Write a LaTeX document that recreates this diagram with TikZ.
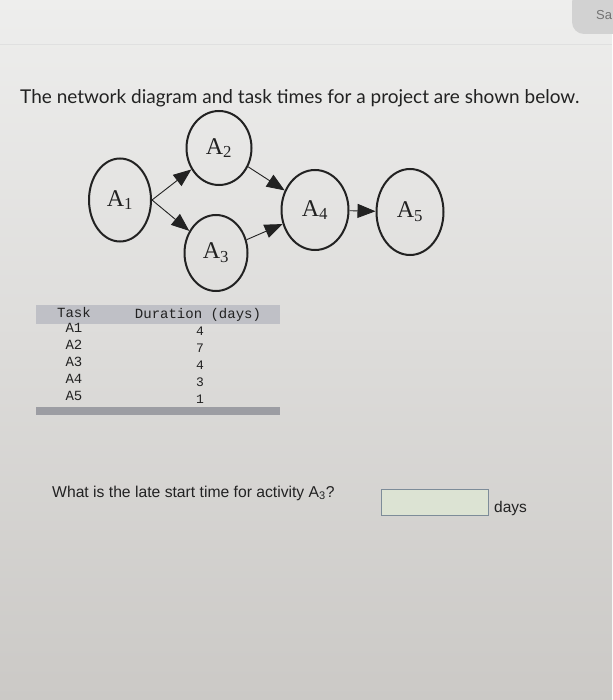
\documentclass[tikz,border=0pt]{standalone}
\usepackage{fontspec}
\usetikzlibrary{shapes.geometric,arrows.meta}
\newfontfamily\hfont{Lato}
\newfontfamily\qfont{Liberation Sans}
\newfontfamily\serA{Liberation Serif}
\newfontfamily\monof{Liberation Mono}
\definecolor{ink}{HTML}{222222}
\definecolor{bgtop}{HTML}{EEEEED}
\definecolor{bgbot}{HTML}{CBC9C6}
\definecolor{band}{HTML}{BFC0C6}
\definecolor{barc}{HTML}{9C9DA3}
\definecolor{boxfill}{HTML}{DCE3D3}
\definecolor{boxline}{HTML}{7D8C99}
\definecolor{btn}{HTML}{D2D2D2}
\tikzset{
  ev/.style={draw=ink, line width=2pt, ellipse, inner sep=0pt, minimum width=64pt, minimum height=80pt,
    font=\serA\fontsize{24}{26}\selectfont, text=ink},
  arr/.style={draw=ink, line width=0.9pt, -{Triangle[length=18pt,width=14pt]}},
  mono/.style={font=\monof\fontsize{14}{16}\selectfont, text=ink, inner sep=0pt},
  monov/.style={font=\monof\fontsize{13}{15}\selectfont, text=ink, inner sep=0pt},
}
\begin{document}
\begin{tikzpicture}[x=1pt,y=-1pt]
\useasboundingbox (0,0) rectangle (612,700);
\shade[top color=bgtop, bottom color=bgbot] (0,0) rectangle (612,700);
% top bar
\draw[color=black!12, line width=0.8pt] (0,44) -- (612,44);
\fill[btn] (572,-10) [rounded corners=12pt] rectangle (640,34);
\node[font=\qfont\fontsize{13}{14}\selectfont, text=black!55, anchor=west, inner sep=0pt] (sa) at (596,15) {Sa};
% heading
\node[font=\hfont\fontsize{19}{22}\selectfont, text=ink, anchor=base west, inner sep=0pt] (head) at (20,104)
  {The network diagram and task times for a project are shown below.};
% network
\node[ev, minimum width=62pt, minimum height=83pt] (A1) at (120,200) {A\textsubscript{1}};
\node[ev, minimum width=65pt, minimum height=74pt] (A2) at (219,148) {A\textsubscript{2}};
\node[ev, minimum width=63pt, minimum height=76pt] (A3) at (216,253) {A\textsubscript{3}};
\node[ev, minimum width=67pt, minimum height=80pt] (A4) at (315,210) {A\textsubscript{4}};
\node[ev, minimum width=67pt, minimum height=86pt] (A5) at (410,212) {A\textsubscript{5}};
\draw[arr] (A1.east) -- (A2);
\draw[arr] (A1.east) -- (A3);
\draw[arr] (A2) -- (A4);
\draw[arr] (A3) -- (A4);
\draw[arr] (A4) -- (A5);
% table
\fill[band] (36,305) rectangle (280,324);
\node[mono] (th1) at (74,312) {Task};
\node[mono] (th2) at (198,315) {Duration (days)};
\node[mono] (r1) at (74,328) {A1};
\node[mono] (r2) at (74,345) {A2};
\node[mono] (r3) at (74,362) {A3};
\node[mono] (r4) at (74,379) {A4};
\node[mono] (r5) at (74,396) {A5};
\node[monov] (v1) at (200,331) {4};
\node[monov] (v2) at (200,348) {7};
\node[monov] (v3) at (200,365) {4};
\node[monov] (v4) at (200,382) {3};
\node[monov] (v5) at (200,399) {1};
\fill[barc] (36,407) rectangle (280,415);
% question
\node[font=\qfont\fontsize{15.7}{18}\selectfont, text=ink, anchor=base west, inner sep=0pt] (q) at (52,497)
  {What is the late start time for activity A\textsubscript{3}?};
\draw[fill=boxfill, draw=boxline, line width=1pt] (381,489) rectangle (488,515);
\node[font=\qfont\fontsize{15.5}{18}\selectfont, text=ink, anchor=base west, inner sep=0pt] (days) at (494,512) {days};
\end{tikzpicture}
\end{document}
